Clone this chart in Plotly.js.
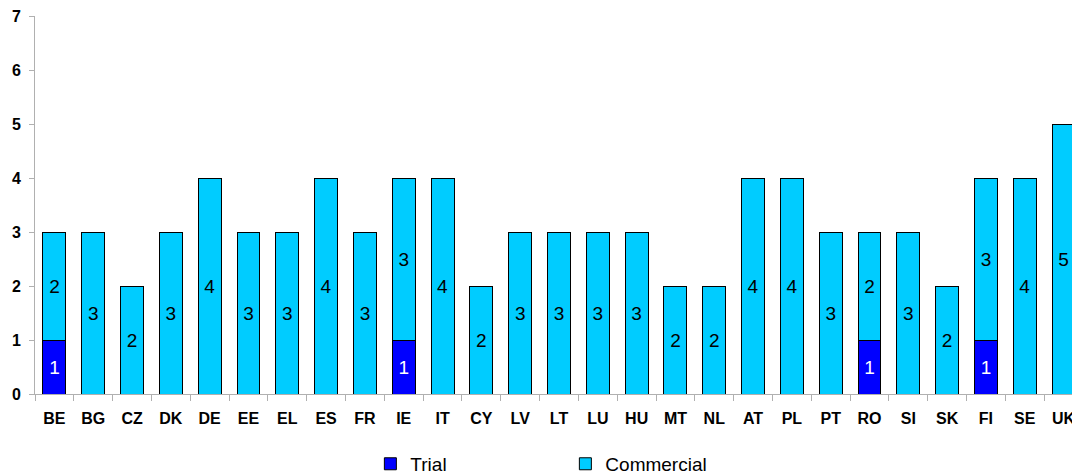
<!DOCTYPE html>
<html><head><meta charset="utf-8">
<script src="https://cdn.plot.ly/plotly-3.0.1.min.js"></script>
<style>html,body{margin:0;padding:0;overflow:hidden;background:#fff;width:1072px;height:476px}</style>
</head><body><div id="chart"></div>
<script>
const categories = ["BE","BG","CZ","DK","DE","EE","EL","ES","FR","IE","IT","CY","LV","LT","LU","HU","MT","NL","AT","PL","PT","RO","SI","SK","FI","SE","UK"];
const trial =      [1,0,0,0,0,0,0,0,0,1,0,0,0,0,0,0,0,0,0,0,0,1,0,0,1,0,0];
const commercial = [2,3,2,3,4,3,3,4,3,3,4,2,3,3,3,3,2,2,4,4,3,2,3,2,3,4,5];
const yTicks = [0,1,2,3,4,5,6,7];

const lbl = a => a.map(v => v ? String(v) : "");
const F = "Liberation Sans, Arial, sans-serif";
const traces = [
  {type:"bar", name:"Trial", x:categories, y:trial, text:lbl(trial), textposition:"inside", insidetextanchor:"middle",
   textfont:{family:F, size:19, color:"#ffffff"},
   marker:{color:"#0000ff", line:{color:"#000000", width:1}}, hoverinfo:"none"},
  {type:"bar", name:"Commercial", x:categories, y:commercial, text:lbl(commercial), textposition:"inside", insidetextanchor:"middle",
   textfont:{family:F, size:19, color:"#000000"},
   marker:{color:"#00ccff", line:{color:"#000000", width:1}}, hoverinfo:"none"}
];
const layout = {
  width:1090, height:476,
  margin:{l:35, r:7, t:16, b:82, autoexpand:false},
  barmode:"stack", bargap:0.41,
  paper_bgcolor:"#ffffff", plot_bgcolor:"#ffffff",
  font:{family:F, color:"#000"},
  xaxis:{showline:true, linecolor:"#b0b0b0", linewidth:1, ticks:"outside", tickson:"boundaries", ticklen:6, tickcolor:"#b0b0b0",
    ticklabelstandoff:10, tickfont:{size:16, family:F, weight:"bold"}, showgrid:false, zeroline:false, fixedrange:true, automargin:false},
  yaxis:{range:[0,7], tickvals:yTicks, showline:true, linecolor:"#b0b0b0", linewidth:1, ticks:"outside", ticklen:5, tickcolor:"#b0b0b0",
    ticklabelstandoff:5, tickfont:{size:16, family:F, weight:"bold"}, showgrid:false, zeroline:false, fixedrange:true, automargin:false},
  showlegend:true,
  legend:{orientation:"h", x:0.32, xanchor:"left", y:-0.185, yanchor:"middle", entrywidth:150, entrywidthmode:"pixels",
    font:{size:19, family:F}, itemclick:false, itemdoubleclick:false, traceorder:"normal"}
};
Plotly.newPlot("chart", traces, layout, {displayModeBar:false, staticPlot:true});
</script></body></html>
